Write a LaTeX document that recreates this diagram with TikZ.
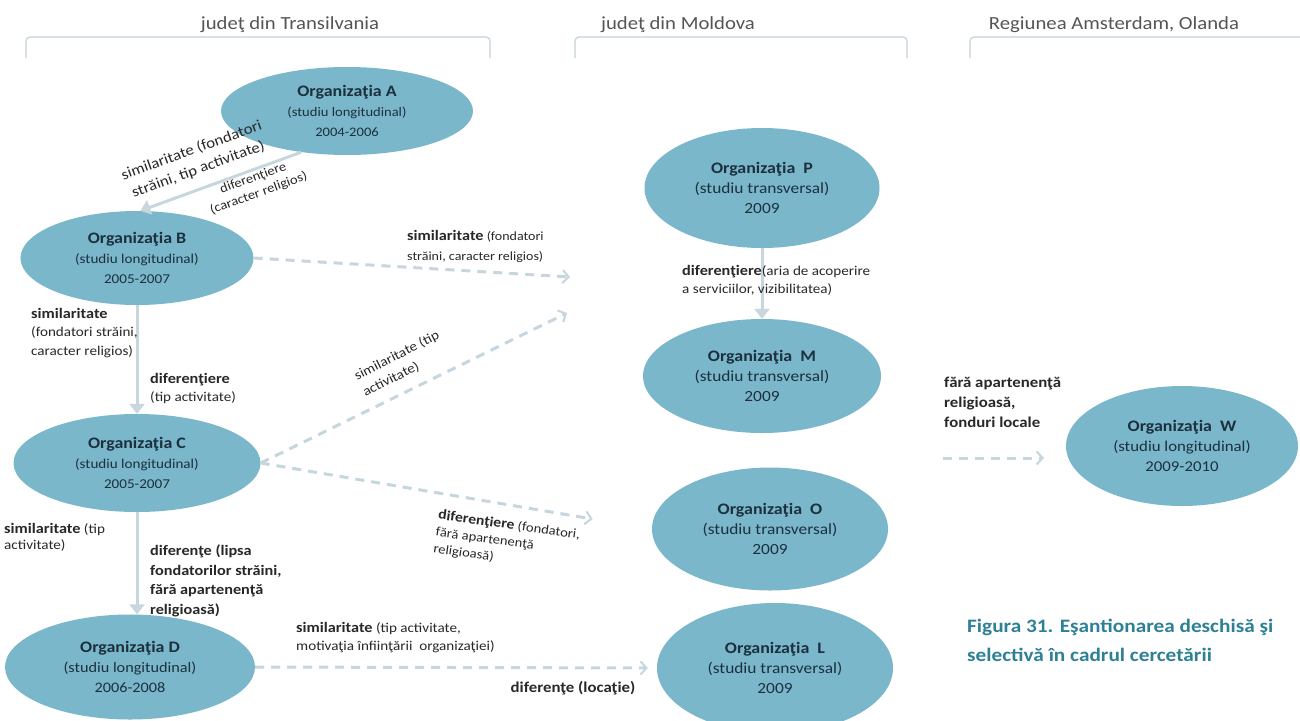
\documentclass[tikz,border=0pt]{standalone}
\usepackage{fontspec}
\setmainfont{Carlito}[FakeStretch=1.12]
\usetikzlibrary{arrows.meta,shapes.geometric}

\definecolor{orgfill}{RGB}{122,183,203}
\definecolor{orgtext}{RGB}{28,48,62}
\definecolor{lbltext}{RGB}{40,40,40}
\definecolor{hdrtext}{RGB}{85,85,85}
\definecolor{brkline}{RGB}{196,210,217}
\definecolor{arrline}{RGB}{200,214,222}
\definecolor{dashline}{RGB}{198,214,221}
\definecolor{captext}{RGB}{46,128,150}

\newcommand\kw[1]{{\fontsize{14.5}{18}\selectfont\bfseries #1}}
\newcommand\fs[2]{\fontsize{#1}{#2}\selectfont}

\begin{document}
\begin{tikzpicture}[x=1pt,y=-1pt,
  org/.style n args={3}{ellipse,fill=orgfill,text=orgtext,inner sep=0pt,
    minimum width=#1,minimum height=#2,align=center,font=\fs{#3}{20}},
  lbl/.style={align=left,text=lbltext,inner sep=0pt,font=\fs{13.5}{18.5}},
  hdr/.style={text=hdrtext,font=\fs{18.5}{20}},
  solidarr/.style={draw=arrline,line width=3pt,-{Triangle[length=10pt,width=15pt]}},
  dasharr/.style={draw=dashline,line width=3pt,dash pattern=on 9pt off 7pt,
    -{Straight Barb[length=6pt,width=13pt,line width=2pt]}}]

\path[use as bounding box,fill=white] (0,0) rectangle (1300,720);

% headers and brackets
\node[hdr] (hdT) at (290,25) {judeţ din Transilvania};
\node[hdr] (hdM) at (678,25) {judeţ din Moldova};
\node[hdr] (hdA) at (1114,25) {Regiunea Amsterdam, Olanda};
\foreach \xa/\xb in {26/490,575/907,970/1306}
  \draw[brkline,line width=1.2pt,rounded corners=4pt] (\xa,58) -- (\xa,37) -- (\xb,37) -- (\xb,58);

% organisations
\node[org={252}{88}{13}]    (A) at (347,111) {{\fs{16}{20}\bfseries Organizaţia A}\\(studiu longitudinal)\\2004-2006};
\node[org={233}{94}{13.5}]  (B) at (137,258) {{\fs{16}{20}\bfseries Organizaţia B}\\(studiu longitudinal)\\2005-2007};
\node[org={247}{98}{13.5}]  (C) at (137,463) {{\fs{16}{20}\bfseries Organizaţia C}\\(studiu longitudinal)\\2005-2007};
\node[org={250}{105}{14.5}] (D) at (130,667) {{\fs{16}{20}\bfseries Organizaţia D}\\(studiu longitudinal)\\2006-2008};
\node[org={235}{120}{15.5}] (P) at (762,188) {{\fs{16}{20}\bfseries Organizaţia\ \ P}\\(studiu transversal)\\2009};
\node[org={238}{114}{15.5}] (M) at (762,376) {{\fs{16}{20}\bfseries Organizaţia\ \ M}\\(studiu transversal)\\2009};
\node[org={236}{123}{15.5}] (O) at (770,529) {{\fs{16}{20}\bfseries Organizaţia\ \ O}\\(studiu transversal)\\2009};
\node[org={236}{130}{15.5}] (L) at (775,668) {{\fs{16}{20}\bfseries Organizaţia\ \ L}\\(studiu transversal)\\2009};
\node[org={232}{120}{15}]   (W) at (1182,446) {{\fs{16}{20}\bfseries Organizaţia\ \ W}\\(studiu longitudinal)\\2009-2010};

% free ends
\coordinate (bsim) at (570,277);
\coordinate (csim) at (567,313);
\coordinate (wfrom) at (943,458);
\coordinate (wto) at (1044,458);

% connectors
\draw[solidarr] (A.222) -- (B.86);
\draw[solidarr] (B.south) -- (C.north);
\draw[solidarr] (C.south) -- (C.south |- D.north);
\draw[solidarr] (P.south) -- (M.north);
\draw[dasharr] (B.east) -- (bsim);
\draw[dasharr] (C.east) -- (csim);
\draw[dasharr,shorten >=60pt] (C.east) -- (O.west);
\draw[dasharr,shorten >=9pt] (D.east) -- (L.west);
\draw[dasharr] (wfrom) -- (wto);

% labels
\node[lbl,align=center,rotate=20,font=\fs{15}{20}] (lAB1) at (195,160) {similaritate (fondatori\\străini, tip activitate)};
\node[lbl,align=center,rotate=20,font=\fs{13}{16}] (lAB2) at (256,186) {diferenţiere\\(caracter religios)};
\node[lbl,anchor=north west,font=\fs{12.5}{20}] (lBP) at (407,230) {\kw{similaritate} (fondatori\\străini, caracter religios)};
\node[lbl,rotate=27] (lCP) at (401,364) {similaritate (tip\\activitate)};
\node[lbl,anchor=north west,rotate=-8,font=\fs{13}{17}] (lCO) at (439,509) {{\fs{14}{17}\bfseries diferenţiere} (fondatori,\\fără apartenenţă\\religioasă)};
\node[lbl,anchor=north west] (lBC1) at (31,308) {\kw{similaritate}\\(fondatori străini,\\caracter religios)};
\node[lbl,anchor=north west] (lBC2) at (150,373) {\kw{diferenţiere}\\(tip activitate)};
\node[lbl,anchor=north west,font=\fs{13.5}{16}] (lCD1) at (4,523) {\kw{similaritate} (tip\\activitate)};
\node[lbl,anchor=north west,font=\fs{14.5}{19.5}\bfseries] (lCD2) at (150,545) {diferenţe (lipsa\\fondatorilor străini,\\fără apartenenţă\\religioasă)};
\node[lbl,anchor=north west,font=\fs{13.5}{18}] (lDL1) at (296,622) {\kw{similaritate} (tip activitate,\\motivaţia înfiinţării\ \ organizaţiei)};
\node[lbl,font=\fs{15}{18}\bfseries] (lDL2) at (573,688) {diferenţe (locaţie)};
\node[lbl,anchor=north west] (lPM) at (682,265) {\kw{diferenţiere}(aria de acoperire\\a serviciilor, vizibilitatea)};
\node[lbl,anchor=north west,font=\fs{15}{20}\bfseries] (lW) at (944,377) {fără apartenenţă\\religioasă,\\fonduri locale};

% caption
\node[anchor=north west,align=left,text=captext,inner sep=0pt,
  font=\fs{19}{29}\bfseries] (cap) at (967,619) {Figura 31. Eşantionarea deschisă şi\\selectivă în cadrul cercetării};
\end{tikzpicture}
\end{document}
